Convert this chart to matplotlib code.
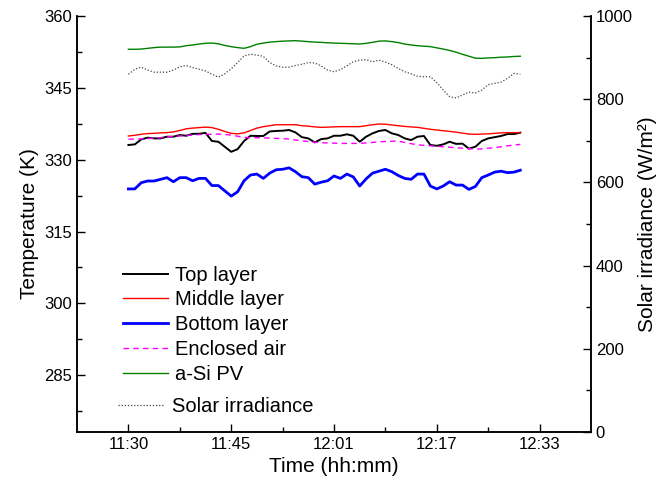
import matplotlib
matplotlib.use("Agg")
import matplotlib.pyplot as plt
from matplotlib.ticker import MultipleLocator

plt.rcParams['font.family'] = ['Liberation Sans', 'DejaVu Sans']

# sample index = minutes since 11:30
tick_pos = [0, 16, 32, 48, 64]
tick_labels = ["11:30", "11:45", "12:01", "12:17", "12:33"]

top_layer = [333.07, 333.2, 334.25, 334.6, 334.45, 334.45, 334.8, 334.8, 335.15, 335.0,
             335.4, 335.4, 335.6, 333.9, 333.75, 332.7, 331.65, 332.2, 333.9, 335.0,
             334.95, 334.95, 335.9, 336.0, 336.05, 336.2, 335.7, 334.7, 334.45, 333.6,
             334.3, 334.45, 335.0, 335.0, 335.3, 335.0, 333.75, 334.8, 335.5, 336.0,
             336.2, 335.5, 335.15, 334.45, 334.1, 334.8, 334.95, 333.07, 332.9, 333.2,
             333.75, 333.3, 333.35, 332.3, 332.7, 333.9, 334.45, 334.7, 334.95, 335.35,
             335.35, 335.65]

middle_layer = [334.95, 335.1, 335.3, 335.45, 335.5, 335.6, 335.65, 335.8, 336.1, 336.45,
                336.6, 336.7, 336.8, 336.7, 336.35, 335.9, 335.5, 335.4, 335.6, 336.1,
                336.6, 336.9, 337.1, 337.3, 337.3, 337.3, 337.3, 337.1, 337.0, 336.85,
                336.75, 336.8, 336.85, 336.9, 336.9, 336.9, 336.9, 337.1, 337.3, 337.45,
                337.4, 337.25, 337.1, 336.95, 336.85, 336.75, 336.55, 336.35, 336.2, 336.05,
                335.9, 335.75, 335.55, 335.35, 335.3, 335.35, 335.4, 335.5, 335.6, 335.65,
                335.65, 335.65]

bottom_layer = [323.9, 323.9, 325.2, 325.55, 325.55, 325.9, 326.25, 325.4, 326.25, 326.25,
                325.6, 326.1, 326.1, 324.6, 324.6, 323.5, 322.4, 323.3, 325.6, 326.8,
                327.0, 326.1, 327.2, 327.9, 328.0, 328.3, 327.5, 326.45, 326.25, 324.9,
                325.3, 325.6, 326.6, 326.1, 327.0, 326.4, 324.5, 326.0, 327.2, 327.6,
                328.0, 327.5, 326.7, 326.1, 325.9, 327.0, 327.0, 324.5, 323.9, 324.5,
                325.4, 324.7, 324.7, 323.8, 324.4, 326.25, 326.8, 327.4, 327.6, 327.3,
                327.4, 327.8]

enclosed_air = [334.3, 334.3, 334.35, 334.4, 334.5, 334.6, 334.75, 334.85, 334.95, 335.05,
                335.15, 335.25, 335.3, 335.3, 335.35, 335.25, 335.15, 334.9, 334.65, 334.6,
                334.6, 334.55, 334.5, 334.45, 334.4, 334.3, 334.1, 333.95, 333.8, 333.65,
                333.55, 333.5, 333.45, 333.4, 333.4, 333.4, 333.4, 333.5, 333.6, 333.75,
                333.8, 333.85, 333.9, 333.6, 333.35, 333.1, 333.0, 332.9, 332.8, 332.7,
                332.6, 332.5, 332.4, 332.3, 332.2, 332.25, 332.4, 332.5, 332.7, 332.9,
                333.05, 333.2]

asi_pv = [353.05, 353.05, 353.1, 353.25, 353.4, 353.5, 353.5, 353.5, 353.55, 353.8,
          353.95, 354.15, 354.3, 354.35, 354.2, 353.85, 353.6, 353.4, 353.25, 353.6,
          354.1, 354.35, 354.55, 354.65, 354.75, 354.8, 354.85, 354.75, 354.65, 354.55,
          354.5, 354.4, 354.35, 354.3, 354.25, 354.2, 354.15, 354.3, 354.5, 354.75,
          354.8, 354.65, 354.45, 354.15, 353.95, 353.8, 353.7, 353.6, 353.35, 353.1,
          352.8, 352.45, 352.0, 351.6, 351.2, 351.15, 351.25, 351.3, 351.4, 351.45,
          351.55, 351.6]

solar = [860, 872, 877, 870, 865, 865, 865, 870, 878, 881,
         876, 872, 868, 860, 853, 861, 873, 888, 904, 908,
         906, 903, 888, 880, 877, 877, 881, 884, 888, 887,
         880, 870, 866, 871, 880, 890, 894, 895, 890, 894,
         889, 883, 874, 866, 861, 855, 854, 854, 840, 822,
         806, 803, 810, 817, 815, 822, 835, 838, 841, 850,
         862, 860]

minutes = list(range(len(top_layer)))

fig = plt.figure(figsize=(6.6, 4.93), dpi=100)
ax = fig.add_axes([77 / 660, 61 / 493, 514 / 660, 416 / 493])
ax2 = ax.twinx()

l1, = ax.plot(minutes, top_layer, color="black", lw=1.4, label="Top layer")
l2, = ax.plot(minutes, middle_layer, color="red", lw=1.0, label="Middle layer")
l3, = ax.plot(minutes, bottom_layer, color="blue", lw=2.0, label="Bottom layer")
l4, = ax.plot(minutes, enclosed_air, color="magenta", lw=1.0, ls=(0, (4, 3)), label="Enclosed air")
l5, = ax.plot(minutes, asi_pv, color="green", lw=1.0, label="a-Si PV")
l6, = ax2.plot(minutes, solar, color="#444444", lw=0.9, ls=(0, (1, 1.5)), label="Solar irradiance")

ax.set_xlim(-8, 72)
ax.set_ylim(273.15, 360)
ax2.set_ylim(0, 1000)

ax.set_xticks(tick_pos)
ax.set_xticklabels(tick_labels)
ax.set_xticks([8, 24, 40, 56], minor=True)
ax.set_yticks([285, 300, 315, 330, 345, 360])
ax.set_yticks([277.5, 292.5, 307.5, 322.5, 337.5, 352.5], minor=True)
ax2.yaxis.set_major_locator(MultipleLocator(200))
ax2.yaxis.set_minor_locator(MultipleLocator(100))

for a in (ax, ax2):
    a.spines["top"].set_visible(False)
    a.tick_params(which="major", direction="in", length=6, width=1, labelsize=12)
    a.tick_params(which="minor", direction="in", length=3.5, width=1)
    for s in a.spines.values():
        s.set_linewidth(1.1)

ax.set_xlabel("Time (hh:mm)", fontsize=15)
ax.set_ylabel("Temperature (K)", fontsize=15)
ax2.set_ylabel("Solar irradiance (W/m²)", fontsize=15)

leg1 = ax2.legend(handles=[l1, l2, l3, l4, l5], loc="upper left",
                  bbox_to_anchor=(0.0895, 0.400), frameon=False, fontsize=14.5,
                  handlelength=2.25, handletextpad=0.35, labelspacing=0.29,
                  borderpad=0, borderaxespad=0)
ax2.add_artist(leg1)
ax2.legend(handles=[l6], loc="upper left", bbox_to_anchor=(0.080, 0.085),
           frameon=False, fontsize=14.5, handlelength=2.25, handletextpad=0.45,
           borderpad=0, borderaxespad=0)

fig.savefig("out.png", dpi=100)
plt.close(fig)
